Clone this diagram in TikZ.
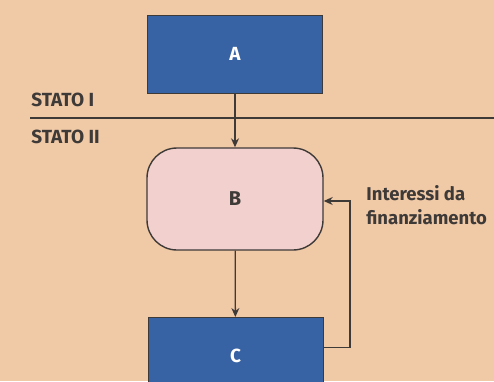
\documentclass[tikz,border=0pt]{standalone}
\usepackage{fontspec}
\setmainfont{Fira Sans}
\usetikzlibrary{arrows.meta}

\definecolor{paper}{RGB}{240,201,166}
\definecolor{boxblue}{RGB}{55,98,163}
\definecolor{boxpink}{RGB}{242,208,205}
\definecolor{ink}{RGB}{62,58,56}

\begin{document}
\begin{tikzpicture}[x=1pt,y=-1pt,thick,
    bluebox/.style={draw=ink,fill=boxblue,text=white,minimum width=175pt,minimum height=78pt,inner sep=0,font=\bfseries\fontsize{19}{20}\selectfont},
    statebox/.style={draw=ink,line width=1.4pt,fill=boxpink,text=ink,rounded corners=30pt,minimum width=176pt,minimum height=102pt,inner sep=0,font=\bfseries\fontsize{20}{22}\selectfont},
    flow/.style={draw=ink,line width=1.3pt,-{Stealth[length=9pt,width=8pt]}},
    label/.style={text=ink,font=\bfseries\fontsize{18.5}{24}\selectfont,inner sep=0}]
    \useasboundingbox (0,0) rectangle (494,381);
    \clip (0,0) rectangle (494,381);
    \fill[paper] (0,0) rectangle (494,381);
    % the two states and the line between them
    \node[label,anchor=west,font=\bfseries\fontsize{19}{22}\selectfont] (s1) at (31,100) {STATO I};
    \node[label,anchor=west,font=\bfseries\fontsize{19}{22}\selectfont] (s2) at (31,136.5) {STATO II};
    \draw[ink,line width=1.3pt] (30,118) -- (494,118);
    % the boxes
    \node[bluebox] (A) at (235,54) {A};
    \node[statebox] (B) at (235,199) {B};
    \node[bluebox,anchor=north] (C) at (235.5,317) {C};
    % arrows
    \draw[flow] (A) -- (B);
    \draw[flow] (B) -- (C);
    \draw[flow] ([yshift=9pt]C.east) -| (350,201) -- ([yshift=-2pt]B.east);
    \node[label,anchor=north west,align=left] (int) at (366,185) {Interessi da\\finanziamento};
\end{tikzpicture}
\end{document}
